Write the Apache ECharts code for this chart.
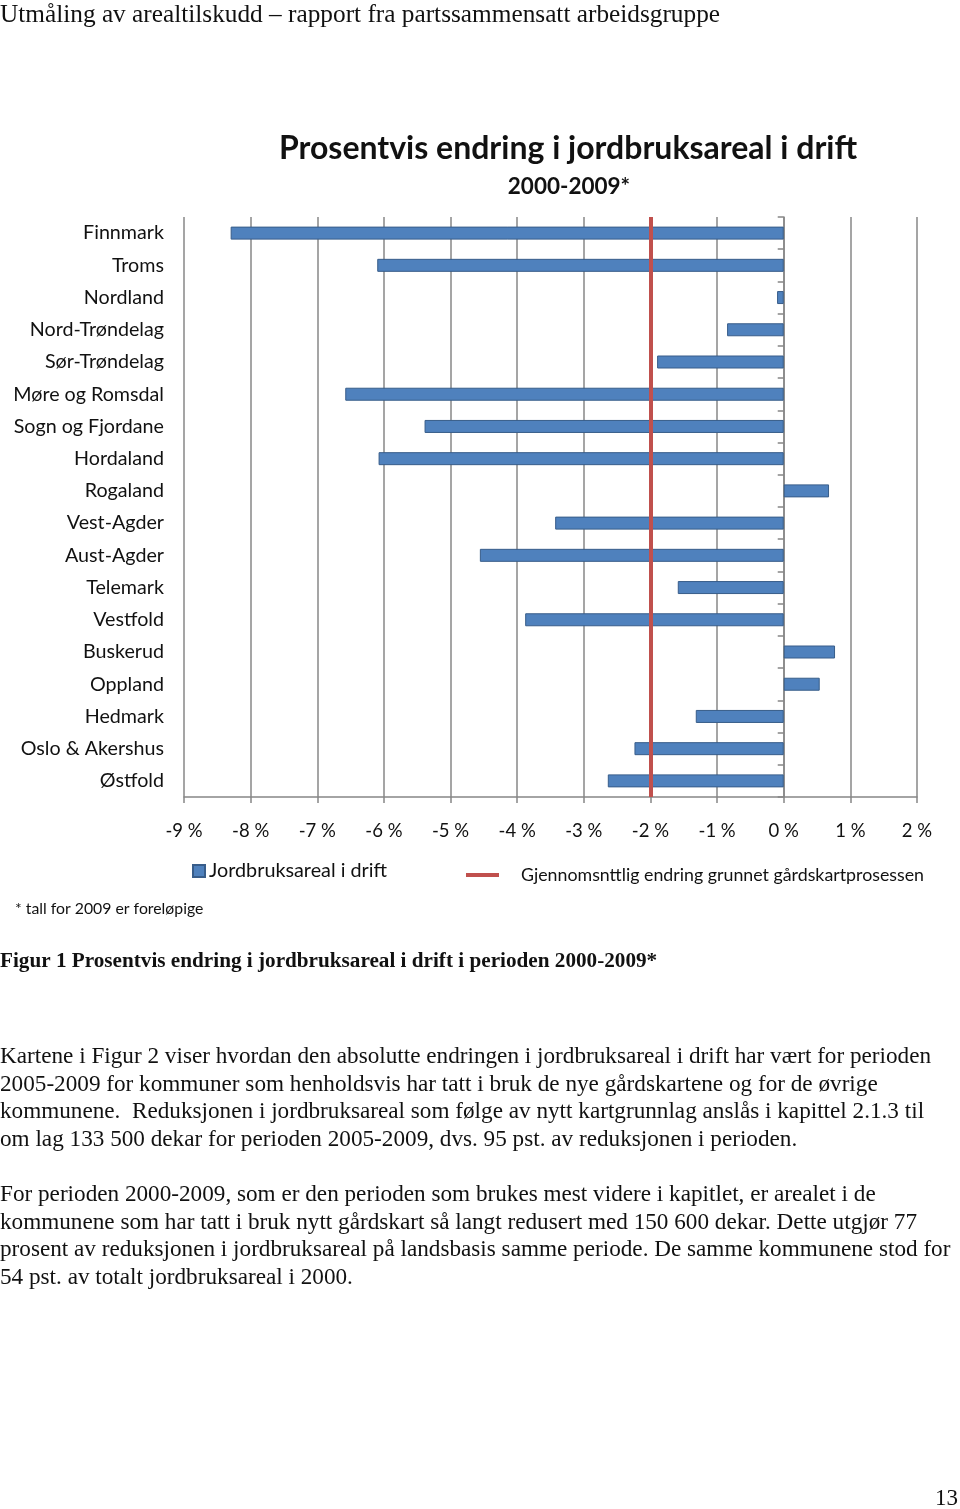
<!DOCTYPE html>
<html>
<head>
<meta charset="utf-8">
<script src="https://cdn.jsdelivr.net/npm/echarts@6/dist/echarts.min.js"></script>
<style>
html,body{margin:0;padding:0;background:#fff;}
#chart{width:960px;height:1509px;}
</style>
</head>
<body>
<div id="chart"></div>
<script>
const categories = ['Finnmark','Troms','Nordland','Nord-Trøndelag','Sør-Trøndelag','Møre og Romsdal','Sogn og Fjordane','Hordaland','Rogaland','Vest-Agder','Aust-Agder','Telemark','Vestfold','Buskerud','Oppland','Hedmark','Oslo & Akershus','Østfold'];
const changeValues = [-8.30,-6.10,-0.10,-0.85,-1.90,-6.58,-5.39,-6.08,0.68,-3.43,-4.56,-1.59,-3.88,0.77,0.54,-1.32,-2.24,-2.64];
const averageChange = -2.0;
const xTicks = {min: -9, max: 2, interval: 1};
const seriesNames = ['Jordbruksareal i drift', 'Gjennomsnttlig endring grunnet gårdskartprosessen'];
const headerText = 'Utmåling av arealtilskudd – rapport fra partssammensatt arbeidsgruppe';
const chartTitle = 'Prosentvis endring i jordbruksareal i drift';
const chartSubtitle = '2000-2009*';
const footnote = '* tall for 2009 er foreløpige';
const caption = 'Figur 1 Prosentvis endring i jordbruksareal i drift i perioden 2000-2009*';
const para1 = [
 'Kartene i Figur 2 viser hvordan den absolutte endringen i jordbruksareal i drift har vært for perioden',
 '2005-2009 for kommuner som henholdsvis har tatt i bruk de nye gårdskartene og for de øvrige',
 'kommunene.  Reduksjonen i jordbruksareal som følge av nytt kartgrunnlag anslås i kapittel 2.1.3 til',
 'om lag 133 500 dekar for perioden 2005-2009, dvs. 95 pst. av reduksjonen i perioden.'
];
const para2 = [
 'For perioden 2000-2009, som er den perioden som brukes mest videre i kapitlet, er arealet i de',
 'kommunene som har tatt i bruk nytt gårdskart så langt redusert med 150 600 dekar. Dette utgjør 77',
 'prosent av reduksjonen i jordbruksareal på landsbasis samme periode. De samme kommunene stod for',
 '54 pst. av totalt jordbruksareal i 2000.'
];
const pageNumber = '13';

const chart = echarts.init(document.getElementById('chart'));
const SERIF = '"Liberation Serif","DejaVu Serif",serif';
const SANS = 'Lato,"Open Sans",sans-serif';

function txt(x, y, text, font, align) {
  return {type:'text', x:x, y:y, style:{text:text, font:font, fill:'#111', align:align||'left', verticalAlign:'middle'}};
}
const graphics = [];
graphics.push(txt(0, 15, headerText, '25.3px '+SERIF));
graphics.push(txt(15, 908.5, footnote, '15.8px '+SANS));
graphics.push(txt(0, 962, caption, 'bold 21.2px '+SERIF));
para1.forEach((t,i)=>graphics.push(txt(0, 1057+i*27.5, t, '23.2px '+SERIF)));
para2.forEach((t,i)=>graphics.push(txt(0, 1195+i*27.5, t, '23.2px '+SERIF)));
graphics.push(txt(958, 1499, pageNumber, '23px '+SERIF, 'right'));

chart.setOption({
  animation:false,
  title:[
    {text:chartTitle, left:563, top:128, textAlign:'center', textStyle:{fontFamily:SANS, fontWeight:'bold', fontSize:32, color:'#111'}},
    {text:chartSubtitle, left:564, top:170, textAlign:'center', textStyle:{fontFamily:SANS, fontWeight:'bold', fontSize:22.5, color:'#111'}}
  ],
  legend:[
    {data:[seriesNames[0]], left:187, top:856, icon:'rect', itemWidth:12, itemHeight:12, itemGap:4,
     textStyle:{fontFamily:SANS, fontSize:19.8, color:'#111', padding:[0,0,0,-1]}},
    {data:[{name:seriesNames[1], icon:'rect'}], left:461, top:861, itemWidth:33, itemHeight:4, itemGap:20,
     textStyle:{fontFamily:SANS, fontSize:17.8, color:'#111', padding:[0,0,0,17]}}
  ],
  grid:{left:184, right:43, top:217, bottom:712, containLabel:false},
  xAxis:{type:'value', min:xTicks.min, max:xTicks.max, interval:xTicks.interval,
    axisLine:{show:true, onZero:false, lineStyle:{color:'#878787', width:1.5}},
    axisTick:{show:true, length:6, lineStyle:{color:'#878787', width:1.5}},
    axisLabel:{formatter:'{value} %', fontFamily:SANS, fontSize:18.5, color:'#111', margin:25},
    splitLine:{show:true, lineStyle:{color:'#878787', width:1.5}}},
  yAxis:[
    {type:'category', data:categories, inverse:true,
     axisLine:{show:false, onZero:false}, axisTick:{show:false},
     axisLabel:{fontFamily:SANS, fontSize:19.7, color:'#111', margin:20}},
    {type:'category', data:categories, inverse:true, position:'left',
     axisLine:{show:true, onZero:true, lineStyle:{color:'#878787', width:1.5}},
     axisTick:{show:true, length:6, lineStyle:{color:'#878787', width:1.5}},
     axisLabel:{show:false}}
  ],
  series:[
    {name:seriesNames[0], type:'bar', yAxisIndex:0, data:changeValues, barWidth:13,
     itemStyle:{color:'#4f81bd', borderColor:'#385d8a', borderWidth:1}, z:3},
    {name:seriesNames[1], type:'line', yAxisIndex:0, data:[], color:'#c0504d',
     markLine:{symbol:'none', silent:true, label:{show:false},
       lineStyle:{color:'#c0504d', width:4, type:'solid'},
       data:[{xAxis:averageChange}]}, z:5}
  ],
  graphic:graphics
});
</script>
</body>
</html>
